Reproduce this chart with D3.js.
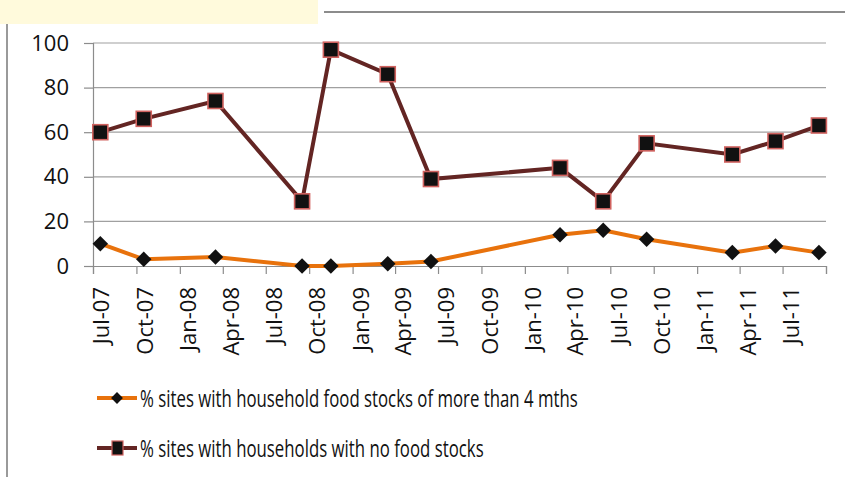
<!DOCTYPE html>
<html>
<head>
<meta charset="utf-8">
<script src="https://cdn.jsdelivr.net/npm/d3@7"></script>
<style>
  body { margin: 0; background: #fff; }
  svg text { font-family: "Open Sans", sans-serif; fill: #111; }
</style>
</head>
<body>
<svg id="chart" width="845" height="477"></svg>
<script>
// months of the surveys
var months = ["2007-07", "2007-10", "2008-03", "2008-09", "2008-11", "2009-03", "2009-06",
              "2010-03", "2010-06", "2010-09", "2011-03", "2011-06", "2011-09"];
// % sites with household food stocks of more than 4 mths
var moreThan4 = [10, 3, 4, 0, 0, 1, 2, 14, 16, 12, 6, 9, 6];
// % sites with households with no food stocks
var noStocks = [60, 66, 74, 29, 97, 86, 39, 44, 29, 55, 50, 56, 63];
var yTicks = [0, 20, 40, 60, 80, 100];
var legendLabels = ["% sites with household food stocks of more than 4 mths",
                    "% sites with households with no food stocks"];

var parse = d3.timeParse("%Y-%m");
var svg = d3.select("#chart");

// bits of the surrounding page
svg.append("rect").attr("x", 0).attr("y", 0).attr("width", 318).attr("height", 24).attr("fill", "#fffadc");
svg.append("line").attr("x1", 324).attr("x2", 845).attr("y1", 12).attr("y2", 12)
    .attr("stroke", "#8c8c8c").attr("stroke-width", 2);
svg.append("line").attr("x1", 7).attr("x2", 7).attr("y1", 24).attr("y2", 477)
    .attr("stroke", "#9a9a9a").attr("stroke-width", 2);

var plotLeft = 93, plotRight = 826, plotTop = 43, plotBottom = 266;

var x = d3.scaleTime()
    .domain([new Date(2007, 6, 1), new Date(2011, 9, 1)])
    .range([plotLeft, plotRight]);
var y = d3.scaleLinear().domain([0, 100]).range([plotBottom, plotTop]);

// centre of a month slot
function mid(d) {
    return (x(d) + x(d3.timeMonth.offset(d, 1))) / 2;
}

// grid
svg.append("g").selectAll("line")
    .data(yTicks.filter(function(v) { return v > 0; }))
    .enter().append("line")
    .attr("x1", plotLeft).attr("x2", plotRight)
    .attr("y1", function(d) { return y(d); }).attr("y2", function(d) { return y(d); })
    .attr("stroke", "#a0a0a0").attr("stroke-width", 1.2);

// y axis
var yAxis = svg.append("g")
    .attr("transform", "translate(" + plotLeft + ",0)")
    .call(d3.axisLeft(y).tickValues(yTicks).tickSize(9).tickPadding(15));
yAxis.selectAll("line, path").attr("stroke", "#8c8c8c").attr("stroke-width", 1.2);
yAxis.selectAll("text").style("font-size", "22px").style("fill", "#111");

// x axis
var tickDates = d3.timeMonth.every(3).range(new Date(2007, 6, 1), new Date(2011, 9, 2));
var xAxis = svg.append("g")
    .attr("transform", "translate(0," + plotBottom + ")")
    .call(d3.axisBottom(x).tickValues(tickDates).tickSize(8).tickFormat(""));
xAxis.selectAll("line, path").attr("stroke", "#8c8c8c").attr("stroke-width", 1.2);

svg.append("g").selectAll("text")
    .data(tickDates.slice(0, -1))
    .enter().append("text")
    .attr("transform", function(d) { return "translate(" + (mid(d) + 1) + "," + (plotBottom + 21) + ") rotate(-90)"; })
    .attr("text-anchor", "end")
    .attr("dy", "0.36em")
    .style("font-size", "22px")
    .text(d3.timeFormat("%b-%y"));

var data = months.map(function(m, i) {
    return { date: parse(m), a: moreThan4[i], b: noStocks[i] };
});

var lineA = d3.line().x(function(d) { return mid(d.date); }).y(function(d) { return y(d.a); });
var lineB = d3.line().x(function(d) { return mid(d.date); }).y(function(d) { return y(d.b); });

svg.append("path").datum(data).attr("d", lineA)
    .attr("fill", "none").attr("stroke", "#e8720c").attr("stroke-width", 4);
svg.append("path").datum(data).attr("d", lineB)
    .attr("fill", "none").attr("stroke", "#632523").attr("stroke-width", 4);

var diamond = d3.symbol().type(d3.symbolSquare).size(120);
svg.append("g").selectAll("path")
    .data(data).enter().append("path")
    .attr("d", diamond)
    .attr("transform", function(d) { return "translate(" + mid(d.date) + "," + y(d.a) + ") rotate(45)"; })
    .attr("fill", "#111");

svg.append("g").selectAll("rect")
    .data(data).enter().append("rect")
    .attr("x", function(d) { return mid(d.date) - 7.5; })
    .attr("y", function(d) { return y(d.b) - 7.5; })
    .attr("width", 15).attr("height", 15)
    .attr("fill", "#111").attr("stroke", "#d0625f").attr("stroke-width", 1.6);

// legend
var legend = svg.append("g");
var legRows = [398, 448];
legend.selectAll("line")
    .data(legRows).enter().append("line")
    .attr("x1", 97).attr("x2", 137)
    .attr("y1", function(d) { return d; }).attr("y2", function(d) { return d; })
    .attr("stroke", function(d, i) { return i ? "#632523" : "#e8720c"; })
    .attr("stroke-width", 4);
legend.append("path")
    .attr("d", d3.symbol().type(d3.symbolSquare).size(70))
    .attr("transform", "translate(117," + legRows[0] + ") rotate(45)")
    .attr("fill", "#111");
legend.append("rect")
    .attr("x", 112).attr("y", legRows[1] - 7).attr("width", 11).attr("height", 14)
    .attr("fill", "#111").attr("stroke", "#d0625f").attr("stroke-width", 1.2);
// the legend type is tall and narrow
legend.selectAll("text")
    .data(legendLabels).enter().append("text")
    .attr("transform", function(d, i) { return "translate(140," + legRows[i] + ") scale(0.70,1)"; })
    .attr("dy", "0.36em")
    .style("font-size", "24px")
    .text(function(d) { return d; });
</script>
</body>
</html>
